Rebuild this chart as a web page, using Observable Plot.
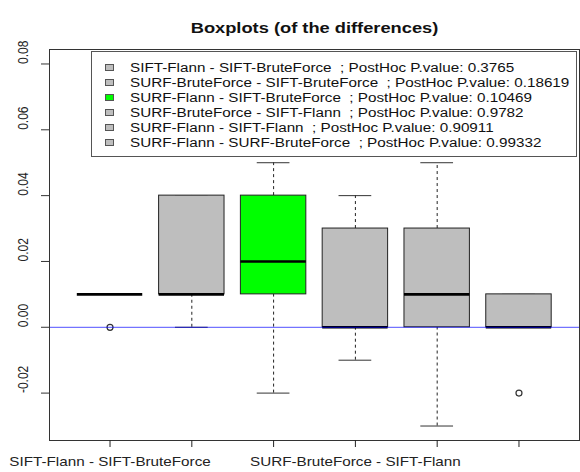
<!DOCTYPE html>
<html><head><meta charset="utf-8">
<script src="https://cdn.jsdelivr.net/npm/d3@7"></script>
<script src="https://cdn.jsdelivr.net/npm/@observablehq/plot@0.6"></script>
<style>
body{margin:0;background:#fff;}
#wrap{position:relative;width:580px;height:472px;font-family:"Liberation Sans",Arial,sans-serif;}
#legend{position:absolute;left:91px;top:51px;width:484px;height:104px;border:1px solid #555;background:#fff;}
.row{position:absolute;left:0;height:12px;line-height:12px;font-size:12px;white-space:pre;color:#111;}
.sw{position:absolute;left:13px;top:2px;width:7px;height:5px;border:1px solid #555;}
.tx{position:absolute;left:38px;top:0;transform:scaleX(1.27);transform-origin:0 0;}
</style></head><body><div id="wrap"></div>
<script>
const title = "Boxplots (of the differences)";
const categories = [
  "SIFT-Flann - SIFT-BruteForce",
  "SURF-BruteForce - SIFT-BruteForce",
  "SURF-Flann - SIFT-BruteForce",
  "SURF-BruteForce - SIFT-Flann",
  "SURF-Flann - SIFT-Flann",
  "SURF-Flann - SURF-BruteForce"
];
const pValues = ["0.3765", "0.18619", "0.10469", "0.9782", "0.90911", "0.99332"];
const lowerWhisker = [0.01, 0.00, -0.02, -0.01, -0.03, 0.00];
const q1 = [0.01, 0.01, 0.01, 0.00, 0.00, 0.00];
const median = [0.01, 0.01, 0.02, 0.00, 0.01, 0.00];
const q3 = [0.01, 0.04, 0.04, 0.03, 0.03, 0.01];
const upperWhisker = [0.01, 0.04, 0.05, 0.04, 0.05, 0.01];
const outlierGroup = [1, 6];
const outlierValue = [0.00, -0.02];
const yTicks = [-0.02, 0.00, 0.02, 0.04, 0.06, 0.08];
const xTicks = [1, 2, 3, 4, 5, 6];

const minP = Math.min(...pValues.map(Number));
const fillOf = i => Number(pValues[i]) === minP ? "#00ff00" : "#bebebe";
const boxes = categories.map((c, i) => ({
  pos: i + 1, name: c, lo: lowerWhisker[i], q1: q1[i], med: median[i], q3: q3[i], hi: upperWhisker[i], fill: fillOf(i)
}));
const outliers = outlierGroup.map((g, i) => ({pos: g, value: outlierValue[i]}));
const bw = 0.4, sw = 0.2;

const chart = Plot.plot({
  width: 580, height: 472,
  marginLeft: 49, marginRight: 1, marginTop: 49, marginBottom: 32,
  style: {fontFamily: "'Liberation Sans', Arial, sans-serif", background: "white"},
  x: {domain: [0.26, 6.74], label: null},
  y: {domain: [-0.0344, 0.0844], label: null},
  marks: [
    Plot.ruleX(boxes, {x: "pos", y1: "q3", y2: "hi", stroke: "#222", strokeDasharray: "3,3"}),
    Plot.ruleX(boxes, {x: "pos", y1: "lo", y2: "q1", stroke: "#222", strokeDasharray: "3,3"}),
    Plot.ruleY(boxes, {x1: d => d.pos - sw, x2: d => d.pos + sw, y: "hi", stroke: "#333"}),
    Plot.ruleY(boxes, {x1: d => d.pos - sw, x2: d => d.pos + sw, y: "lo", stroke: "#333"}),
    Plot.rect(boxes, {x1: d => d.pos - bw, x2: d => d.pos + bw, y1: "q1", y2: "q3", fill: "fill", stroke: "#222"}),
    Plot.ruleY(boxes, {x1: d => d.pos - bw, x2: d => d.pos + bw, y: "med", stroke: "black", strokeWidth: 2.6}),
    Plot.dot(outliers, {x: "pos", y: "value", r: 3, stroke: "#333", strokeWidth: 1.2, fill: "none"}),
    Plot.ruleY([0], {stroke: "#0000ff", strokeOpacity: 0.55, strokeWidth: 1.2}),
    Plot.frame({stroke: "#333"}),
    Plot.axisY({ticks: yTicks, tickSize: 8, tickFormat: () => "", stroke: "#333", label: null}),
    Plot.text(yTicks, {y: d => d, text: d => d.toFixed(2), frameAnchor: "left", dx: -26, rotate: -90, fontSize: 12, fill: "#222"}),
    Plot.axisX({ticks: xTicks, tickSize: 7, tickPadding: 10, fontSize: 12, color: "#222", label: null,
      tickFormat: i => (i - 1) % 3 === 0 ? categories[i - 1] : ""}),
    Plot.text([title], {frameAnchor: "top", lineAnchor: "bottom", dy: -17, fontWeight: "bold", fontSize: 14.4, fill: "#111"})
  ]
});
chart.querySelectorAll("text").forEach(t => {
  const tr = t.getAttribute("transform");
  if (!tr) return;
  if (tr.includes("rotate(")) t.setAttribute("transform", tr.replace("rotate(", "scale(1.27,1) rotate("));
  else t.setAttribute("transform", tr + " scale(1.27,1)");
});
const wrap = document.getElementById("wrap");
wrap.appendChild(chart);

const legend = document.createElement("div");
legend.id = "legend";
categories.forEach((c, i) => {
  const row = document.createElement("div");
  row.className = "row";
  row.style.top = (10 + 15 * i) + "px";
  row.style.width = "100%";
  const s = document.createElement("div");
  s.className = "sw";
  s.style.background = fillOf(i);
  const t = document.createElement("span");
  t.className = "tx";
  t.textContent = c + "  ; PostHoc P.value: " + pValues[i];
  row.appendChild(s); row.appendChild(t);
  legend.appendChild(row);
});
wrap.appendChild(legend);
</script></body></html>
